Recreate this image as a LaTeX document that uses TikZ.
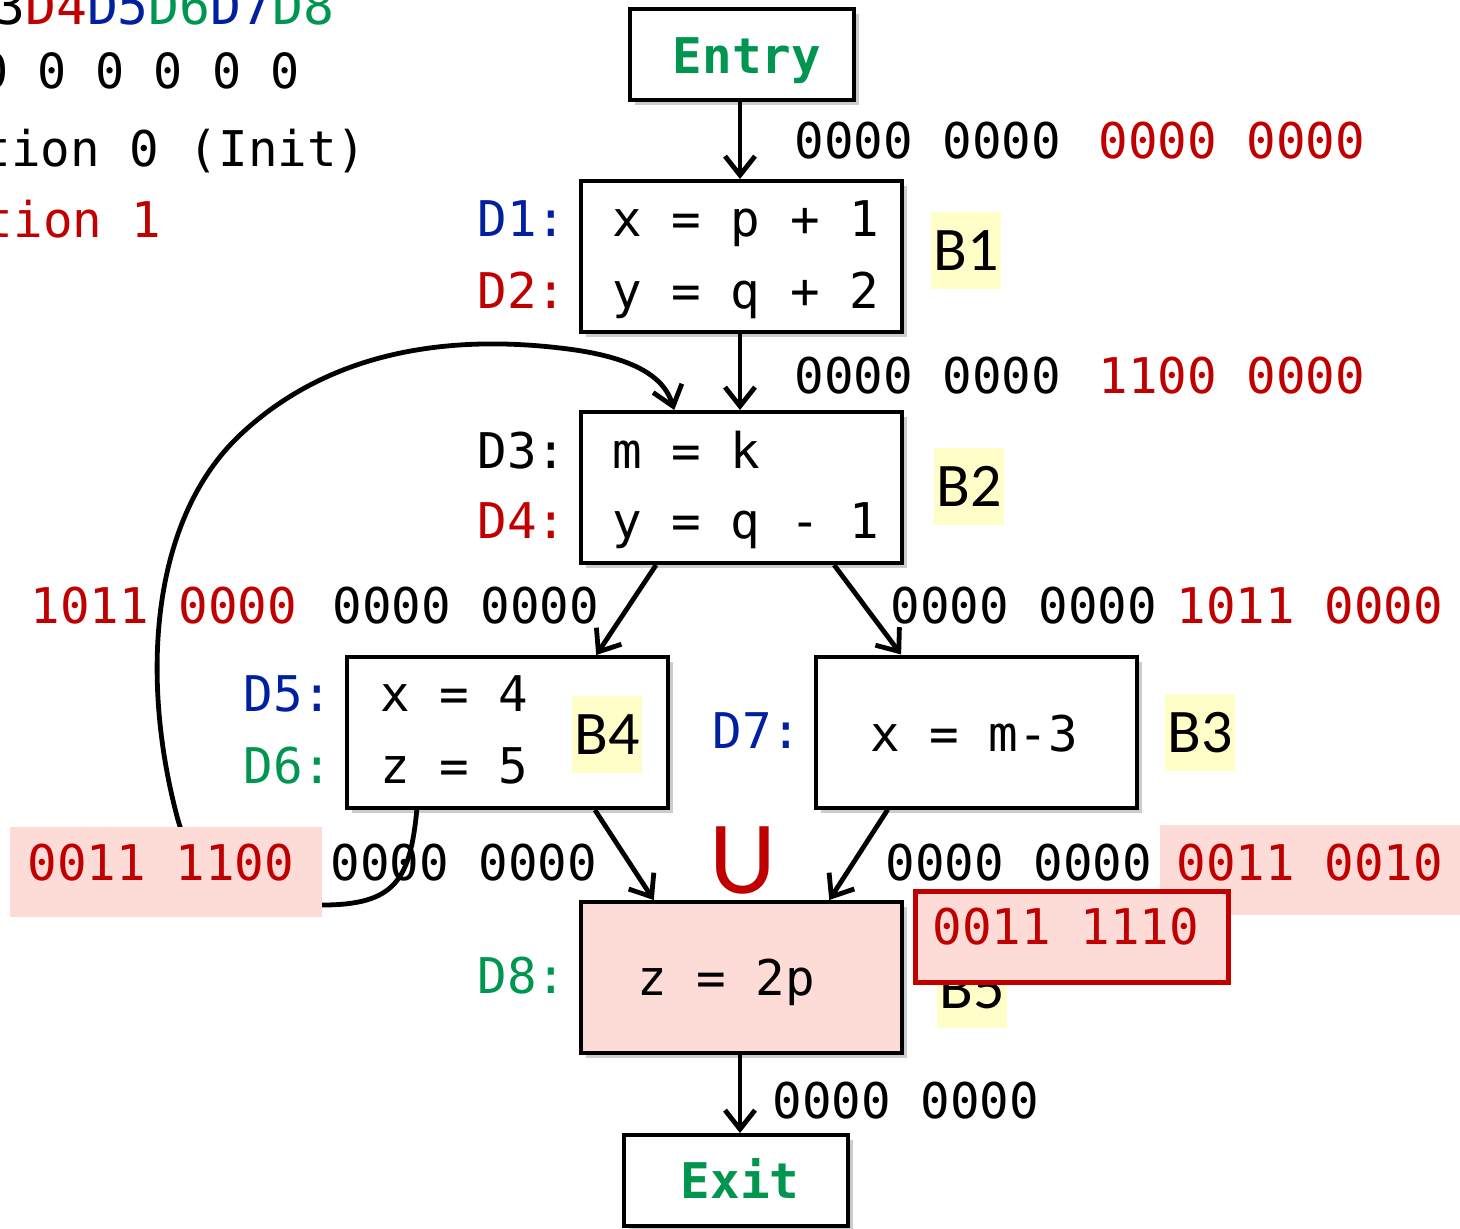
\documentclass[tikz,border=0pt]{standalone}
\usepackage{fontspec}
\setmonofont{DejaVu Sans Mono}
\newfontfamily\calib{Carlito}
\usetikzlibrary{arrows.meta,shadows,calc}
\definecolor{cgreen}{RGB}{0,150,80}
\definecolor{cblue}{RGB}{0,32,160}
\definecolor{cred}{RGB}{192,0,0}
\definecolor{cpink}{RGB}{253,219,215}
\definecolor{cyellow}{RGB}{255,253,200}
\newcommand\cf{\ttfamily\fontsize{24.6}{29}\selectfont}
\newcommand\cfl{\ttfamily\fontsize{25.7}{30}\selectfont}
\newcommand\cfz{\ttfamily\fontsize{24.2}{29}\selectfont}
\begin{document}
\begin{tikzpicture}[x=0.5pt,y=-0.5pt,
  blk/.style={draw, line width=2pt, fill=white, inner sep=0,
    drop shadow={shadow xshift=2.5pt, shadow yshift=-2.5pt, opacity=0.2, fill=black}},
  bigbox/.style={blk, minimum width=160.5pt, minimum height=75.5pt},
  endbox/.style={blk, minimum width=112pt, minimum height=45.5pt},
  txt/.style={font=\cf, inner sep=0, anchor=base west},
  txte/.style={font=\cf, inner sep=0, anchor=base east},
  blab/.style={font=\calib\fontsize{31}{36}\selectfont, fill=cyellow, inner xsep=1.3pt, inner ysep=0, minimum height=38.5pt},
  arr/.style={line width=2.4pt, -{Straight Barb[length=9.5pt,width=15pt,line width=2.4pt]}},
  lnk/.style={line width=2.4pt}
]
\useasboundingbox (0,0) rectangle (1460,1228);

% top-left legend (cut by the page edge)
\node[txte, font=\cfl] (l1) at (335,24) {{\color{cblue}D1}{\color{cred}D2}D3{\color{cred}D4}{\color{cblue}D5}{\color{cgreen}D6}{\color{cblue}D7}{\color{cgreen}D8}};
\node[txte, font=\cfz] (l2) at (300,88) {0 0 0 0 0 0 0 0};
\node[txte] (l3) at (367,166) {Iteration 0 (Init)};
\node[txte, text=cred] (l4) at (162,237) {Iteration 1};

% boxes
\node[endbox] (entry) at (741.5,54.5) {};
\node[bigbox] (b1) at (741.5,256.5) {};
\node[bigbox] (b2) at (741.5,487.5) {};
\node[bigbox] (b4) at (507.5,732.5) {};
\node[bigbox] (b3) at (976.5,732) {};
\node[bigbox, fill=cpink] (b5) at (741.5,977.5) {};
\node[endbox] (exit) at (735.5,1180.5) {};

% loop B4 -> B2
\coordinate (ls) at ($(b4.south west)!0.221!(b4.south east)$);
\coordinate (le) at ($(b2.north west)!0.293!(b2.north east)$);
\draw[arr] (ls) .. controls (410,880) and (395,905) .. (322,905)
  .. controls (240,905) and (195,880) .. (178,820)
  .. controls (140,680) and (150,520) .. (240,435)
  .. controls (330,350) and (450,335) .. (560,348)
  .. controls (640,357) and (665,380) .. (le);

% pink backgrounds of labels
\fill[cpink] (10,827) rectangle (322,917);
\fill[cpink] (1160,825) rectangle (1462,915);

% box texts
\node[font=\cf\bfseries, text=cgreen, inner sep=0, anchor=base] (tentry) at (747,73) {Entry};
\node[font=\cf\bfseries, text=cgreen, inner sep=0, anchor=base] (texit) at (740,1198) {Exit};

\node[txt, text=cblue] (d1) at (477,236) {D1:};
\node[txt, text=cred] (d2) at (477,308) {D2:};
\node[txt] (c1) at (612,236) {x = p + 1};
\node[txt] (c2) at (612,308) {y = q + 2};

\node[txt] (d3) at (477,468) {D3:};
\node[txt, text=cred] (d4) at (477,538) {D4:};
\node[txt] (c3) at (612,468) {m = k};
\node[txt] (c4) at (612,538) {y = q - 1};

\node[txt, text=cblue] (d5) at (243,711) {D5:};
\node[txt, text=cgreen] (d6) at (243,783) {D6:};
\node[txt] (c5) at (380,711) {x = 4};
\node[txt] (c6) at (380,783) {z = 5};

\node[txt, text=cblue] (d7) at (712,748) {D7:};
\node[txt] (c7) at (870,751) {x = m-3};

\node[txt, text=cgreen] (d8) at (477,993) {D8:};
\node[txt] (c8) at (637,995) {z = 2p};

% arrows
\draw[arr] (entry.south -| 740,0) -- (b1.north -| 740,0);
\draw[arr] (b1.south -| 740,0) -- (b2.north -| 740,0);
\draw[arr] ($(b2.south west)!0.237!(b2.south east)$) -- ($(b4.north west)!0.773!(b4.north east)$);
\draw[arr] ($(b2.south west)!0.785!(b2.south east)$) -- ($(b3.north west)!0.268!(b3.north east)$);
\draw[arr] ($(b4.south west)!0.769!(b4.south east)$) -- ($(b5.north west)!0.23!(b5.north east)$);
\draw[arr] ($(b3.south west)!0.227!(b3.south east)$) -- ($(b5.north west)!0.77!(b5.north east)$);
\draw[arr] (b5.south -| 740,0) -- (exit.north -| 740,0);

% set labels
\node[txt] (s1a) at (794,158) {0000 0000};
\node[txt, text=cred] (s1b) at (1098,158) {0000 0000};
\node[txt] (s2a) at (794,393) {0000 0000};
\node[txt, text=cred] (s2b) at (1098,393) {1100 0000};
\node[txt, text=cred] (s3a) at (30,623) {1011 0000};
\node[txt] (s3b) at (332,623) {0000 0000};
\node[txt] (s4a) at (890,623) {0000 0000};
\node[txt, text=cred] (s4b) at (1176,623) {1011 0000};
\node[txt, text=cred] (s5a) at (27,880) {0011 1100};
\node[txt] (s5b) at (330,880) {0000 0000};
\node[txt] (s6a) at (885,880) {0000 0000};
\node[txt, text=cred] (s6b) at (1176,880) {0011 0010};
\node[txt] (s7) at (772,1118) {0000 0000};

% union sign
\node[font=\calib\fontsize{52}{60}\selectfont, text=cred, inner sep=0] (un) at (743,860) {U};

% block labels
\node[blab] (lb1) at (966,250.5) {B1};
\node[blab] (lb2) at (969,486.5) {B2};
\node[blab] (lb4) at (607,734.5) {B4};
\node[blab] (lb3) at (1200,732.5) {B3};
\node[blab] (lb5) at (972,989) {B5};

% result box
\node[draw=cred, line width=2.5pt, fill=cpink, minimum width=156.5pt, minimum height=45.5pt, inner sep=0] (res) at (1071.5,936.5) {};
\node[txt, text=cred] (rest) at (932,944) {0011 1110};
\end{tikzpicture}
\end{document}
